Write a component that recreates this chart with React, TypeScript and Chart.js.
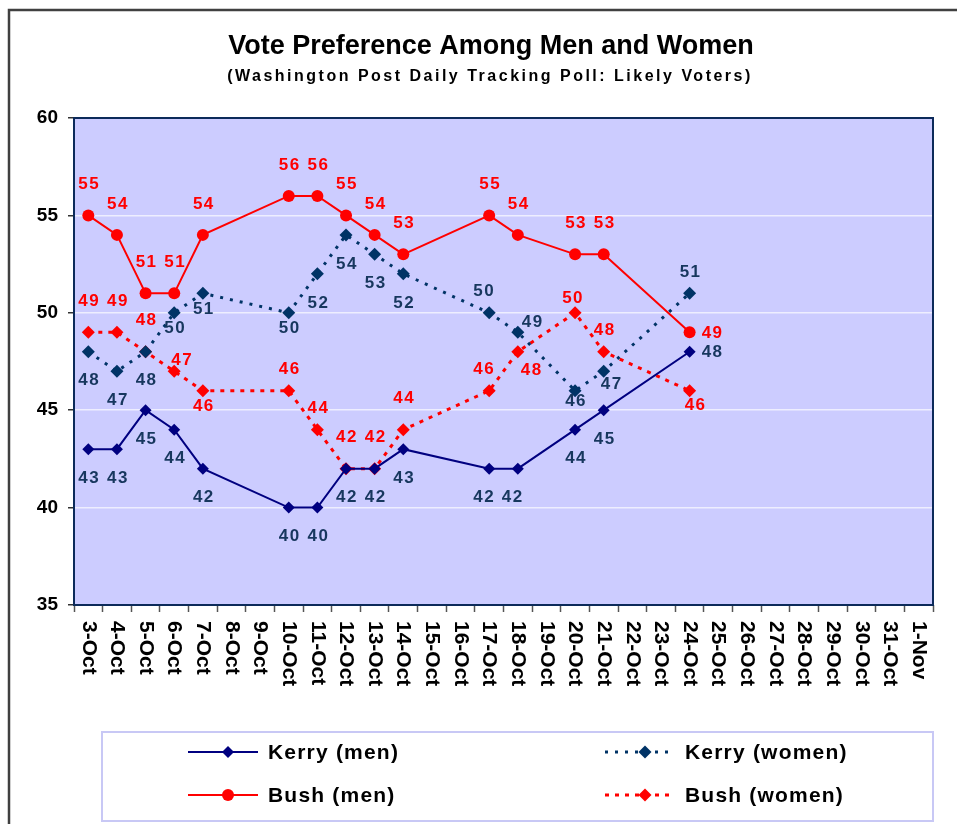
import { useEffect, useRef } from "react";
import { Chart, registerables } from "chart.js";

Chart.register(...registerables);

const categories = [
  "3-Oct", "4-Oct", "5-Oct", "6-Oct", "7-Oct", "8-Oct", "9-Oct", "10-Oct",
  "11-Oct", "12-Oct", "13-Oct", "14-Oct", "15-Oct", "16-Oct", "17-Oct", "18-Oct",
  "19-Oct", "20-Oct", "21-Oct", "22-Oct", "23-Oct", "24-Oct", "25-Oct", "26-Oct",
  "27-Oct", "28-Oct", "29-Oct", "30-Oct", "31-Oct", "1-Nov",
];

const N = null;
const kerryMen = [43, 43, 45, 44, 42, N, N, 40, 40, 42, 42, 43, N, N, 42, 42, N, 44, 45, N, N, 48, N, N, N, N, N, N, N, N];
const kerryWomen = [48, 47, 48, 50, 51, N, N, 50, 52, 54, 53, 52, N, N, 50, 49, N, 46, 47, N, N, 51, N, N, N, N, N, N, N, N];
const bushMen = [55, 54, 51, 51, 54, N, N, 56, 56, 55, 54, 53, N, N, 55, 54, N, 53, 53, N, N, 49, N, N, N, N, N, N, N, N];
const bushWomen = [49, 49, 48, 47, 46, N, N, 46, 44, 42, 42, 44, N, N, 46, 48, N, 50, 48, N, N, 46, N, N, N, N, N, N, N, N];

const yTicks = [35, 40, 45, 50, 55, 60];

// label placement codes (layout only)
const OFF: Record<string, [number, number]> = {
  A: [0, -31], a: [0, -21], s: [-3, -14], B: [0, 29], b: [0, 16], t: [0, 11],
  R: [22, 1], ar: [7, -11], AR: [14, -10], br: [7, 13], BR: [13, 19], al: [-6, -21], bl: [-6, 29], b2: [5, 15],
};
const _ = "";
const kerryMenPos = ["B", "B", "B", "B", "B", _, _, "B", "B", "B", "B", "B", _, _, "bl", "bl", _, "B", "B", _, _, "R"];
const kerryWomenPos = ["B", "B", "B", "b", "b", _, _, "b", "B", "B", "B", "B", _, _, "al", "AR", _, "t", "br", _, _, "a"];
const bushMenPos = ["A", "A", "A", "A", "A", _, _, "A", "A", "A", "A", "A", _, _, "A", "A", _, "A", "A", _, _, "R"];
const bushWomenPos = ["A", "A", "A", "ar", "b", _, _, "a", "a", "A", "A", "A", _, _, "al", "BR", _, "s", "a", _, _, "b2"];

const FONT = "'Liberation Sans', Arial, sans-serif";
const KERRY_LABEL = "#17375E";

function drawMarker(ctx: CanvasRenderingContext2D, style: string, x: number, y: number, r: number, color: string) {
  ctx.save();
  ctx.fillStyle = color;
  ctx.beginPath();
  if (style === "circle") {
    ctx.arc(x, y, r, 0, Math.PI * 2);
  } else {
    ctx.moveTo(x, y - r);
    ctx.lineTo(x + r, y);
    ctx.lineTo(x, y + r);
    ctx.lineTo(x - r, y);
    ctx.closePath();
  }
  ctx.fill();
  ctx.restore();
}

const decor = {
  id: "decor",
  beforeDraw(chart: any) {
    const { ctx, chartArea: ca } = chart;
    ctx.save();
    ctx.fillStyle = "#FFFFFF";
    ctx.fillRect(0, 0, chart.width, chart.height);
    ctx.strokeStyle = "#404040";
    ctx.lineWidth = 2.5;
    ctx.strokeRect(9, 10, 1100, 1000);
    ctx.fillStyle = "#CCCCFF";
    ctx.fillRect(ca.left, ca.top, ca.right - ca.left, ca.bottom - ca.top);
    ctx.restore();
  },
  afterDatasetsDraw(chart: any) {
    const { ctx, chartArea: ca } = chart;
    const xs = chart.scales.x;
    ctx.save();
    // plot border
    ctx.strokeStyle = "#0C2A5A";
    ctx.lineWidth = 2;
    ctx.strokeRect(ca.left, ca.top, ca.right - ca.left, ca.bottom - ca.top);

    // title
    ctx.fillStyle = "#000";
    ctx.textAlign = "center";
    ctx.textBaseline = "middle";
    ctx.font = `bold 27px ${FONT}`;
    ctx.fillText("Vote Preference Among Men and Women", 491, 47);
    (ctx as any).letterSpacing = "2.5px";
    ctx.font = `bold 16px ${FONT}`;
    ctx.fillText("(Washington Post Daily Tracking Poll: Likely Voters)", 490, 77);
    (ctx as any).letterSpacing = "0px";

    // x labels rotated clockwise
    ctx.font = `bold 21px ${FONT}`;
    ctx.textAlign = "left";
    categories.forEach((lab, i) => {
      const x = xs.getPixelForValue(i);
      ctx.save();
      ctx.translate(x, ca.bottom + 16);
      ctx.rotate(Math.PI / 2);
      ctx.fillText(lab, 0, 0);
      ctx.restore();
    });

    // data labels
    const posArrays = [kerryMenPos, kerryWomenPos, bushMenPos, bushWomenPos];
    const colors = [KERRY_LABEL, KERRY_LABEL, "#FF0000", "#FF0000"];
    ctx.font = `bold 17px ${FONT}`;
    (ctx as any).letterSpacing = "1.5px";
    ctx.textAlign = "center";
    ctx.textBaseline = "middle";
    chart.data.datasets.forEach((ds: any, di: number) => {
      const meta = chart.getDatasetMeta(di);
      ds.data.forEach((v: number | null, j: number) => {
        if (v === null || v === undefined) return;
        const code = posArrays[di][j];
        const off = OFF[code] || [0, -30];
        const el = meta.data[j];
        ctx.fillStyle = colors[di];
        ctx.fillText(String(v), el.x + off[0] + 1, el.y + off[1]);
      });
    });
    (ctx as any).letterSpacing = "0px";

    // legend
    ctx.strokeStyle = "#C8C8F5";
    ctx.lineWidth = 2;
    ctx.strokeRect(102, 732, 831, 89);
    const cols = [188, 605];
    const rows = [752, 795];
    ctx.font = `bold 21px ${FONT}`;
    (ctx as any).letterSpacing = "1.2px";
    ctx.textAlign = "left";
    chart.data.datasets.forEach((ds: any, di: number) => {
      const cx = cols[di % 2];
      const cy = rows[Math.floor(di / 2)];
      ctx.save();
      ctx.strokeStyle = ds.borderColor;
      ctx.lineWidth = ds.borderWidth;
      ctx.setLineDash(ds.borderDash || []);
      ctx.beginPath();
      ctx.moveTo(cx, cy);
      ctx.lineTo(cx + 70, cy);
      ctx.stroke();
      ctx.restore();
      drawMarker(ctx, ds.pointStyle, cx + 40, cy, ds.pointRadius, ds.pointBackgroundColor);
      ctx.fillStyle = "#000";
      ctx.fillText(ds.label, cx + 80, cy + 1);
    });
    (ctx as any).letterSpacing = "0px";
    ctx.restore();
  },
};

export default function App() {
  const ref = useRef<HTMLCanvasElement | null>(null);
  useEffect(() => {
    document.body.style.margin = "0";
    if (!ref.current) return;
    const chart = new Chart(ref.current, {
      type: "line",
      data: {
        labels: categories,
        datasets: [
          {
            label: "Kerry (men)",
            data: kerryMen,
            borderColor: "#000080",
            backgroundColor: "#000080",
            pointBackgroundColor: "#000080",
            pointBorderColor: "#000080",
            borderWidth: 2,
            pointStyle: "rectRot",
            pointRadius: 6,
            pointBorderWidth: 0,
            spanGaps: true,
          },
          {
            label: "Kerry (women)",
            data: kerryWomen,
            borderColor: "#003366",
            backgroundColor: "#003366",
            pointBackgroundColor: "#003366",
            pointBorderColor: "#003366",
            borderWidth: 3,
            borderDash: [3, 7],
            pointStyle: "rectRot",
            pointRadius: 6.5,
            pointBorderWidth: 0,
            spanGaps: true,
          },
          {
            label: "Bush (men)",
            data: bushMen,
            borderColor: "#FF0000",
            backgroundColor: "#FF0000",
            pointBackgroundColor: "#FF0000",
            pointBorderColor: "#FF0000",
            borderWidth: 2,
            pointStyle: "circle",
            pointRadius: 6,
            pointBorderWidth: 0,
            spanGaps: true,
          },
          {
            label: "Bush (women)",
            data: bushWomen,
            borderColor: "#FF0000",
            backgroundColor: "#FF0000",
            pointBackgroundColor: "#FF0000",
            pointBorderColor: "#FF0000",
            borderWidth: 3,
            borderDash: [4, 6],
            pointStyle: "rectRot",
            pointRadius: 6.5,
            pointBorderWidth: 0,
            spanGaps: true,
          },
        ],
      },
      options: {
        responsive: false,
        animation: false,
        layout: { padding: { top: 118, right: 24, left: 0, bottom: 0 } },
        plugins: {
          legend: { display: false },
          title: { display: false },
          tooltip: { enabled: false },
        },
        scales: {
          x: {
            type: "category",
            offset: true,
            border: { display: false },
            grid: {
              display: true,
              offset: true,
              drawOnChartArea: false,
              drawTicks: true,
              tickLength: 7,
              tickColor: "#555555",
              tickWidth: 1.5,
            },
            ticks: { display: false },
            afterFit: (s: any) => {
              s.height = 219;
            },
          },
          y: {
            min: 35,
            max: 60,
            border: { display: false },
            afterBuildTicks: (s: any) => {
              s.ticks = yTicks.map((v) => ({ value: v }));
            },
            grid: {
              color: "#EEEEFF",
              lineWidth: 1.5,
              tickColor: "#333333",
              tickLength: 6,
              tickWidth: 1.5,
            },
            ticks: {
              color: "#000",
              padding: 10,
              font: { family: FONT, size: 19, weight: "bold" },
            },
            afterFit: (s: any) => {
              s.width = 74;
            },
          },
        },
      },
      plugins: [decor],
    } as any);
    return () => chart.destroy();
  }, []);
  return (
    <div style={{ width: 957, height: 824 }}>
      <canvas ref={ref} width={957} height={824} style={{ display: "block" }} />
    </div>
  );
}
